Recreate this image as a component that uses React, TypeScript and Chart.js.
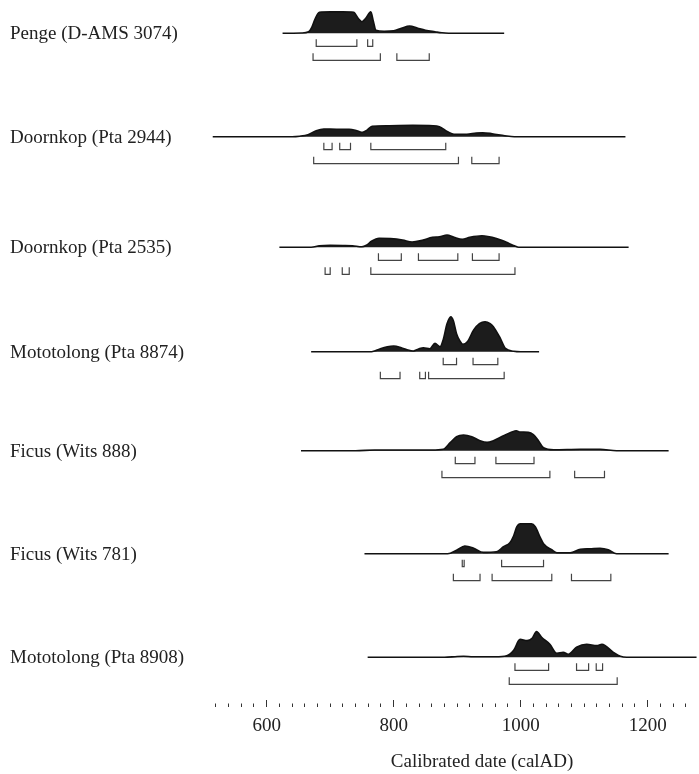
import { useEffect, useRef } from 'react';
import { Chart, registerables } from 'chart.js';

Chart.register(...registerables);

// Sample labels (rows, top to bottom)
const LABELS = [
  'Penge (D-AMS 3074)',
  'Doornkop (Pta 2944)',
  'Doornkop (Pta 2535)',
  'Mototolong (Pta 8874)',
  'Ficus (Wits 888)',
  'Ficus (Wits 781)',
  'Mototolong (Pta 8908)',
];

// Calibrated probability distributions: [calAD, relative probability]
const pengeDensity: [number, number][] = [
  [625, 0], [655, 0.3], [666, 1.5], [671, 6], [676, 14], [683, 21], [700, 21.4], [720, 21.4], [737, 21],
  [744, 15], [750, 11.6], [756, 15], [764, 21.6], [768, 12], [772, 3], [785, 2], [800, 2.5], [812, 5],
  [825, 7.3], [838, 5], [850, 3], [865, 1.5], [876, 0.5], [900, 0], [974, 0],
];
const doornkop2944Density: [number, number][] = [
  [515, 0], [640, 0], [652, 0.5], [665, 2], [678, 6], [690, 7.7], [710, 7.5], [730, 7.5], [742, 6],
  [751, 4.3], [758, 6.5], [766, 10.5], [790, 11], [830, 11.3], [862, 11], [872, 10], [885, 5], [895, 2.5],
  [915, 2.5], [930, 3.7], [940, 4], [955, 3], [975, 1], [990, 0], [1165, 0],
];
const doornkop2535Density: [number, number][] = [
  [620, 0], [670, 0], [683, 1.5], [700, 2], [720, 1.8], [735, 1.5], [750, 0.5], [757, 2], [765, 6],
  [777, 9], [795, 8.7], [814, 7.3], [829, 5.3], [845, 7], [861, 10], [872, 10.5], [884, 12.3], [895, 10],
  [908, 8], [920, 10], [939, 11.5], [955, 10], [970, 7], [981, 4], [990, 1.5], [997, 0], [1170, 0],
];
const mototolong8874Density: [number, number][] = [
  [670, 0], [765, 0], [771, 1], [779, 3], [790, 5], [800, 5.7], [812, 4], [821, 2], [831, 0.7], [840, 3],
  [847, 4], [857, 3], [865, 8.3], [873, 5], [878, 12], [884, 28], [890, 35], [894, 31], [899, 18],
  [904, 11], [909, 7.5], [916, 10], [926, 21.7], [935, 28], [944, 30], [952, 28], [957, 25], [968, 13.3],
  [976, 3.3], [989, 0.5], [1000, 0], [1029, 0],
];
const ficus888Density: [number, number][] = [
  [654, 0], [740, 0], [770, 0.7], [860, 0.7], [878, 1.5], [889, 8], [899, 14], [910, 15.7], [923, 14],
  [936, 10], [947, 8.3], [957, 10], [973, 15], [986, 18.7], [993, 20], [999, 18.7], [1012, 18.3],
  [1020, 16], [1028, 10], [1036, 3], [1052, 1], [1094, 1.5], [1125, 1.5], [1151, 0], [1233, 0],
];
const ficus781Density: [number, number][] = [
  [754, 0], [885, 0], [899, 3.5], [912, 7.7], [926, 5.5], [941, 1.3], [962, 2], [973, 7], [983, 11],
  [989, 18], [994, 27], [999, 30], [1017, 30], [1023, 27], [1031, 16], [1036, 10], [1049, 4], [1057, 1],
  [1078, 1], [1094, 4.5], [1109, 5], [1125, 5.5], [1138, 4], [1151, 0], [1233, 0],
];
const mototolong8908Density: [number, number][] = [
  [759, 0], [880, 0], [900, 0.8], [910, 1], [925, 0.5], [960, 0.5], [978, 1.5], [989, 7], [999, 18],
  [1010, 16.7], [1018, 19], [1025, 25.7], [1033, 20], [1046, 13], [1057, 4], [1067, 5], [1075, 3],
  [1088, 10], [1104, 13], [1120, 11.7], [1128, 13], [1146, 5], [1157, 1], [1167, 0], [1277, 0],
];

// 68.2% probability ranges (calAD)
const ranges68: [number, number][][] = [
  [[678, 742], [759, 767]],
  [[690, 703], [715, 732], [764, 882]],
  [[776, 812], [839, 901], [924, 966]],
  [[878, 899], [925, 964]],
  [[897, 928], [961, 1021]],
  [[908, 911], [970, 1036]],
  [[991, 1044], [1088, 1107], [1119, 1129]],
];
// 95.4% probability ranges (calAD)
const ranges95: [number, number][][] = [
  [[673, 779], [805, 856]],
  [[674, 902], [923, 966]],
  [[692, 700], [719, 730], [764, 991]],
  [[779, 810], [841, 850], [855, 974]],
  [[876, 1046], [1085, 1132]],
  [[894, 936], [955, 1049], [1080, 1142]],
  [[982, 1152]],
];

const DENSITIES = [
  pengeDensity, doornkop2944Density, doornkop2535Density, mototolong8874Density,
  ficus888Density, ficus781Density, mototolong8908Density,
];

// Axis ticks
const X_MIN_TICK = 520;
const X_MAX_TICK = 1260;
const X_TICK_STEP = 20;
const X_LABEL_STEP = 200;

// Layout (y scale in plot units, top = 0)
const ROW_BASE = [33.3, 136.7, 247.3, 351.7, 450.7, 553.7, 657.3];
const DENSITY_SCALE = 1;
const RANGE_OFFSETS = [13, 27];
const BRACKET_H = 7;

const FONT = '"Liberation Serif", "Times New Roman", serif';
const FONT_SIZE = 19;

export default function App() {
  const ref = useRef<HTMLCanvasElement | null>(null);

  useEffect(() => {
    if (!ref.current) return;
    const datasets: any[] = [];
    DENSITIES.forEach((d, i) => {
      const base = ROW_BASE[i];
      datasets.push({
        type: 'line',
        data: d.map(([x, h]) => ({ x, y: base - h * DENSITY_SCALE })),
        borderColor: '#111',
        borderWidth: 1.6,
        backgroundColor: '#1c1c1c',
        fill: { value: base },
        pointRadius: 0,
        cubicInterpolationMode: 'monotone',
      });
      [ranges68[i], ranges95[i]].forEach((rs, lvl) => {
        const yLine = base + RANGE_OFFSETS[lvl];
        const pts: any[] = [];
        rs.forEach(([a, b]) => {
          pts.push(
            { x: a, y: yLine - BRACKET_H },
            { x: a, y: yLine },
            { x: b, y: yLine },
            { x: b, y: yLine - BRACKET_H },
            { x: b, y: null },
          );
        });
        datasets.push({
          type: 'line',
          data: pts,
          borderColor: '#444',
          borderWidth: 1.2,
          pointRadius: 0,
          fill: false,
          tension: 0,
          spanGaps: false,
        });
      });
    });

    const xTicks: number[] = [];
    for (let v = X_MIN_TICK; v <= X_MAX_TICK; v += X_TICK_STEP) xTicks.push(v);

    const chart = new Chart(ref.current, {
      type: 'line',
      data: { datasets },
      options: {
        animation: false,
        responsive: false,
        devicePixelRatio: 1,
        layout: { padding: { left: 10, right: 0, top: 0, bottom: 0 } },
        plugins: { legend: { display: false }, tooltip: { enabled: false } },
        scales: {
          x: {
            type: 'linear',
            position: 'bottom',
            min: 500,
            max: 1378.5,
            afterBuildTicks: (s: any) => {
              s.ticks = xTicks.map((v) => ({ value: v }));
            },
            afterFit: (s: any) => {
              s.height = 74;
              s.paddingLeft = 0;
              s.paddingRight = 0;
            },
            grid: {
              drawOnChartArea: false,
              drawTicks: true,
              tickLength: 7,
              tickColor: '#333',
              tickWidth: 1,
              tickBorderDash: (ctx: any) =>
                ctx.tick && ctx.tick.value % X_LABEL_STEP === 0 ? [] : [0, 3.5, 3.5, 20],
            },
            border: { display: false },
            ticks: {
              autoSkip: false,
              maxRotation: 0,
              padding: 8,
              color: '#222',
              font: { family: FONT, size: FONT_SIZE },
              callback: (v: any) => (Number(v) % X_LABEL_STEP === 0 ? String(v) : ''),
            },
            title: {
              display: true,
              text: 'Calibrated date (calAD)',
              color: '#222',
              font: { family: FONT, size: FONT_SIZE },
              padding: { top: 0, bottom: 1 },
            },
          },
          y: {
            type: 'linear',
            min: 0,
            max: 700,
            reverse: true,
            afterBuildTicks: (s: any) => {
              s.ticks = ROW_BASE.map((v) => ({ value: v + 1 }));
            },
            afterFit: (s: any) => {
              s.width = 193.2;
              s.paddingTop = 0;
              s.paddingBottom = 0;
            },
            grid: { display: false, drawTicks: false },
            border: { display: false },
            ticks: {
              autoSkip: false,
              crossAlign: 'far',
              padding: 0,
              color: '#222',
              font: { family: FONT, size: FONT_SIZE },
              callback: (_v: any, i: number) => LABELS[i],
            },
          },
        },
      } as any,
    });
    return () => chart.destroy();
  }, []);

  return (
    <div style={{ position: 'absolute', left: 0, top: 0, width: 699, height: 774, overflow: 'hidden', background: '#fff' }}>
      <canvas ref={ref} width={761} height={774} style={{ display: 'block', width: 761, height: 774 }} />
    </div>
  );
}
